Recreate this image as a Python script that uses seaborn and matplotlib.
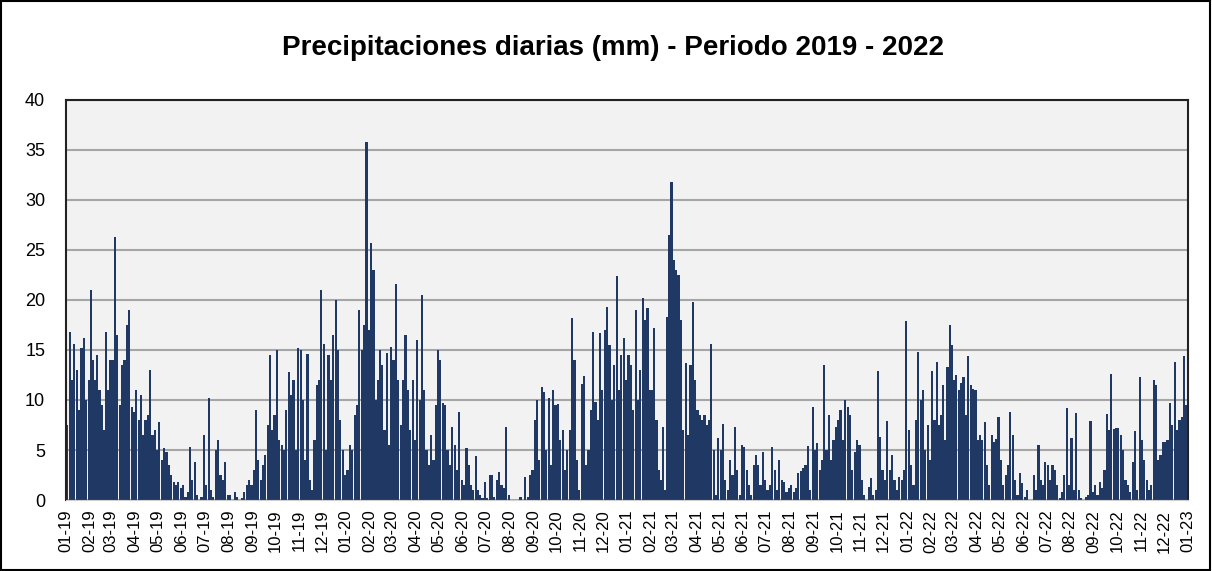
import calendar
import pandas as pd
import seaborn as sns
import matplotlib.pyplot as plt
import matplotlib.dates as mdates
from matplotlib.patches import Rectangle

# lecturas estimadas: 10 por mes (aprox. cada 3 dias), mm
rain_2019 = [
    7.5, 16.8, 12, 15.6, 13, 9, 15.2, 16.2, 10, 12,
    21, 14, 12, 14.5, 11, 9.5, 7, 16.8, 11, 14,
    14, 26.3, 16.5, 9.5, 13.5, 14, 17.5, 19, 9.3, 8.8,
    11, 8, 10.5, 6.5, 8, 8.5, 13, 6.5, 7, 5,
    7.8, 4, 5.2, 4.8, 3.5, 2.5, 1.8, 1.5, 1.8, 1.2,
    1.5, 0.3, 0.8, 5.3, 2, 3.8, 0.5, 0, 0.3, 6.5,
    1.5, 10.2, 1, 0.3, 5, 6, 2.5, 2, 3.8, 0.5,
    0.5, 0, 0.8, 0.3, 0, 0.2, 0.8, 1.5, 2, 1.5,
    3, 9, 4, 2, 3.5, 4.5, 7.5, 14.5, 7, 8.5,
    15, 6, 5.5, 5, 9, 12.8, 10.5, 12, 5, 15.2,
    15, 10, 4, 14.6, 2, 1, 6, 11.5, 12, 21,
    15.6, 5, 14.5, 12, 16.5, 20, 15, 8, 5, 2.5,
]
rain_2020 = [
    3, 5.5, 5, 8.5, 9.5, 19, 15, 17.5, 35.8, 17,
    25.7, 23, 10, 12, 15, 13.5, 7, 14.7, 5.5, 15.3,
    14, 21.6, 12, 7.5, 12, 16.5, 11, 7, 12, 6,
    16, 10, 20.5, 11, 5, 3.5, 6.5, 4, 9.5, 15,
    14, 9.7, 9.5, 5, 3.5, 7.3, 5.5, 3, 8.8, 2,
    1.5, 5.2, 3.5, 1.5, 1, 4.4, 1, 0.5, 0.2, 1.8,
    0.2, 2.5, 2.5, 0.3, 2, 2.8, 1.5, 1.2, 7.3, 0.5,
    0, 0, 0, 0, 0.3, 0, 2.3, 0.3, 2.5, 3,
    8, 10, 4, 11.3, 10.8, 5, 10.2, 3.5, 11, 9.5,
    9.6, 6, 7, 3, 5, 7, 18.2, 14, 4, 1,
    11.6, 12.4, 3.5, 5, 9, 16.8, 9.8, 8, 16.7, 11,
    17, 19.3, 15.5, 10, 13.5, 22.4, 11, 14.5, 16.2, 12,
]
rain_2021 = [
    14.5, 13.5, 9, 19, 10, 13, 20.2, 18, 19.2, 11,
    11, 17.2, 8, 3, 2, 7.3, 1, 18.3, 26.5, 31.8,
    24, 23, 22.5, 18, 7, 13.7, 6.5, 13.5, 19.8, 12,
    9, 8.5, 8, 8.5, 7.5, 8, 15.6, 5, 0.5, 6.2,
    5, 7.6, 2, 1, 4, 2.5, 7.3, 3, 0.5, 5.5,
    5.3, 3, 1.5, 0.5, 3.5, 4.5, 3.5, 1.5, 4.8, 2,
    1, 1.5, 5.3, 3, 1, 4, 2, 1.8, 0.8, 1.2,
    1.5, 0.8, 1.2, 2.7, 2.9, 3.2, 3.5, 5.4, 1, 9.3,
    5, 5.7, 3, 4, 13.5, 5, 8.5, 4, 6, 7.3,
    8, 9, 6, 10, 9.3, 8.5, 3, 4.8, 6, 5.5,
    2, 0.5, 0, 1.3, 2.2, 0.5, 1, 12.9, 6.3, 3,
    2, 7.9, 3, 4.5, 2, 1, 2.3, 2, 3, 17.9,
]
rain_2022 = [
    7, 3.5, 1.5, 8, 14.8, 10, 11, 5, 7.5, 4,
    12.9, 8, 13.8, 7.5, 8.5, 11.5, 6, 13.3, 17.5, 15.5,
    12, 12.5, 11, 11.7, 12.3, 8.5, 14.4, 11.5, 11.1, 11,
    6, 6.5, 6, 7.8, 3.5, 1.5, 6.5, 5.8, 6.1, 8.3,
    4, 1.5, 2.5, 3.5, 8.8, 6.5, 2, 0.5, 2.7, 1.7,
    0.3, 1, 0, 0, 2.5, 1, 5.5, 2, 1.5, 3.8,
    3.5, 2, 3.5, 3, 1.5, 0.2, 0.8, 2.5, 9.2, 1.5,
    6.2, 1, 8.7, 1, 0.2, 0, 0.3, 0.5, 7.9, 0.8,
    1.5, 0.5, 1.8, 1.2, 3, 8.6, 7, 12.6, 7.1, 7.2,
    7.2, 6.5, 5, 2, 1.5, 0.8, 3.8, 6.9, 1, 12.3,
    6, 4, 2, 1, 1.5, 12, 11.5, 4, 4.5, 5.8,
    5.8, 6, 9.7, 7.5, 13.8, 7, 8, 8.3, 14.4, 9.5,
]
years = [2019, 2020, 2021, 2022]
per_month = 10

rows = []
for year, vals in zip(years, [rain_2019, rain_2020, rain_2021, rain_2022]):
    for m in range(12):
        ndays = calendar.monthrange(year, m + 1)[1]
        start = pd.Timestamp(year, m + 1, 1)
        for k in range(per_month):
            day = start + pd.Timedelta(days=(k + 0.5) * ndays / per_month)
            rows.append((mdates.date2num(day), vals[m * per_month + k]))
df = pd.DataFrame(rows, columns=["fecha", "mm"])

sns.set_style("white")
plt.rcParams["font.family"] = ["Liberation Sans", "DejaVu Sans"]

fig, ax = plt.subplots(figsize=(12.12, 5.71), dpi=100)
fig.subplots_adjust(left=0.0545, right=0.980, top=0.825, bottom=0.1243)
ax.set_facecolor("#f2f2f2")

sns.barplot(data=df, x="fecha", y="mm", native_scale=True, width=1.0,
            color="#1f3864", saturation=1, errorbar=None, linewidth=0, ax=ax)

months = pd.date_range("2019-01-01", "2023-01-01", freq="MS")
ax.set_xticks(mdates.date2num(months))
ax.set_xticklabels([d.strftime("%m-%y") for d in months], rotation=90, fontsize=12)
ax.set_xlim(mdates.date2num(months[0]), mdates.date2num(months[-1]))
ax.set_ylim(0, 40)
ax.set_yticks(range(0, 41, 5))
ax.tick_params(axis="y", labelsize=13, length=0, pad=15, labelcolor="black")
ax.tick_params(axis="x", length=4, color="#d0d0d0", pad=3, labelcolor="black")
ax.set_xlabel("")
ax.set_ylabel("")

ax.yaxis.grid(True, color="#a6a6a6", lw=1.5)
ax.set_axisbelow(True)
for side in ["left", "top", "right"]:
    ax.spines[side].set_color("#222222")
    ax.spines[side].set_linewidth(1.5)
ax.spines["bottom"].set_color("#d0d0d0")

fig.text(0.506, 1 - 48 / 571, "Precipitaciones diarias (mm) - Periodo 2019 - 2022",
         ha="center", va="center", fontsize=20, fontweight="bold", color="black")
fig.patches.append(Rectangle((0.001, 0.002), 0.997, 0.996, transform=fig.transFigure,
                             fill=False, edgecolor="black", lw=1.5))

plt.savefig("out.png", dpi=100)
